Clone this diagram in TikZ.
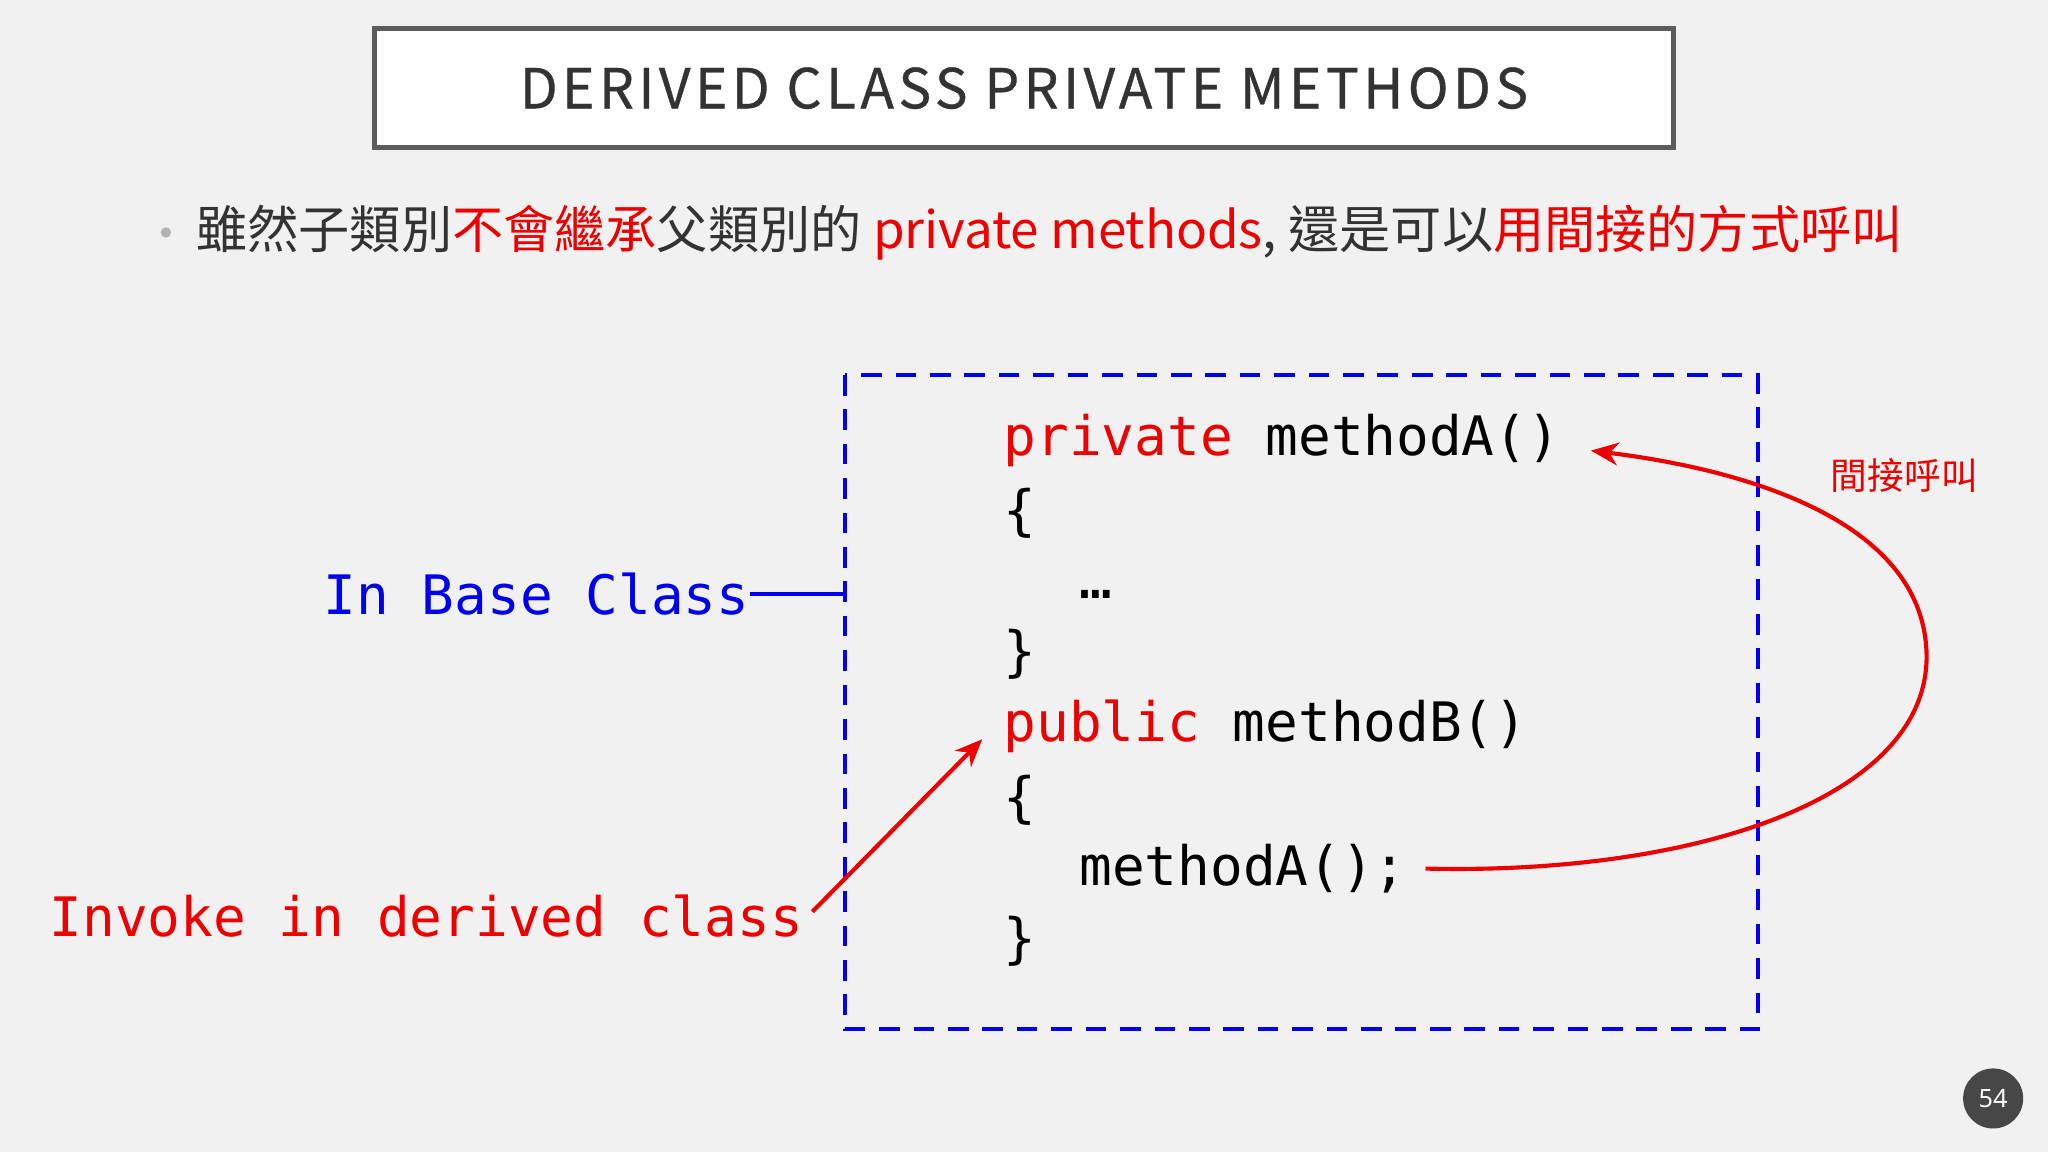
\documentclass[tikz,border=0pt]{standalone}
\usepackage{fontspec}
\setmainfont{Noto Sans}
\newfontfamily\cjk{Noto Sans CJK TC}
\newfontfamily\titlefont[LetterSpace=8,FakeBold=0.6]{Noto Sans CJK TC}
\newfontfamily\monof{DejaVu Sans Mono}
\usetikzlibrary{arrows.meta}
\definecolor{bg}{HTML}{F1F1F1}
\definecolor{tgray}{HTML}{333333}
\definecolor{cred}{HTML}{EE0000}
\definecolor{cblue}{HTML}{0000EE}
\tikzset{
 code/.style={anchor=west,inner sep=0pt,font=\monof\fontsize{23.7}{28}\selectfont,text=black},
 redarrow/.style={draw=cred,line width=1.8pt,-{Stealth[length=12pt,width=10pt]}}
}
\begin{document}
\begin{tikzpicture}[x=0.02cm,y=-0.02cm]
\fill[bg] (0,0) rectangle (1568,882);
\useasboundingbox (0,0) rectangle (1568,882);
\node[draw=tgray!80,line width=2.2pt,fill=white,minimum width=994*0.02cm,minimum height=91*0.02cm,inner sep=0pt] (title) at (784,67.5) {\titlefont\fontsize{24}{28}\selectfont\color{tgray}DERIVED CLASS PRIVATE METHODS};
\fill[gray!60] (127,178) circle (4) coordinate (dot);
\node[anchor=west,inner sep=0pt,font=\cjk\fontsize{22.3}{26}\selectfont,text=tgray] (bullet) at (150,178) {雖然子類別\textcolor{cred}{不會繼承}父類別的 \textcolor{cred}{private methods}, 還是可以\textcolor{cred}{用間接的方式呼叫}};
\draw[cblue,line width=1.8pt,dash pattern=on 9pt off 6pt] (647,287) rectangle (1346,788);
\coordinate (boxl) at (647,455);
\node[code] (l1) at (768,337) {\textcolor{cred}{private} methodA()};
\node[code] (l2) at (768,393) {\{};
\node[code] (l3) at (826,455) {…};
\node[code] (l4) at (768,501) {\}};
\node[code] (l5) at (768,556) {\textcolor{cred}{public} methodB()};
\node[code] (l6) at (768,613) {\{};
\node[code] (l7) at (826,665) {methodA();};
\node[code] (l8) at (768,721) {\}};
\node[code,anchor=east,text=cblue] (base) at (574,455) {In Base Class};
\draw[cblue,line width=1.8pt] (base.east) -- (boxl);
\node[code,anchor=east,text=cred] (inv) at (615,701) {Invoke in derived class};
\coordinate (b5) at (752,566);
\draw[redarrow] (inv.east) ++(7,-3) -- (b5);
\coordinate (a1) at (1218,345);
\draw[redarrow] (l7.east) ++(14,0) .. controls (1300,670) and (1478,610) .. (1475,500) .. controls (1472,400) and (1340,360) .. (a1);
\node[font=\cjk\fontsize{16}{20}\selectfont,text=cred] (lbl) at (1458,364) {間接呼叫};
\node[circle,fill=tgray!90,minimum size=46*0.02cm,inner sep=0pt,text=white,font=\bfseries\fontsize{11}{13}\selectfont] (pg) at (1526,841) {54};
\end{tikzpicture}
\end{document}
